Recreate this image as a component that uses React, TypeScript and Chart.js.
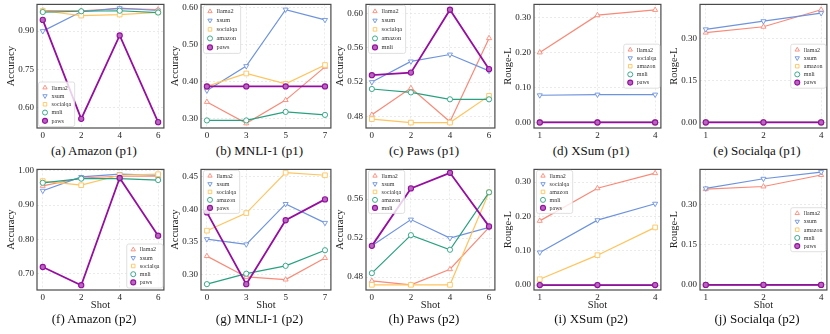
import React, { useEffect, useRef } from "react";
import { Chart, registerables } from "chart.js";

Chart.register(...registerables);

const FONT = "'Liberation Serif', 'Times New Roman', Times, serif";

// ---- x tick labels (shots) ----
const amazonShots = ["0", "2", "4", "6"];
const mnliShots = ["0", "3", "5", "7"];
const pawsShots = ["0", "2", "4", "6"];
const genShots = ["1", "2", "4"];

// ---- source task names (legend entries) ----
const amazonSources = ["llama2", "xsum", "socialqa", "mnli", "paws"];
const mnliSources = ["llama2", "xsum", "socialqa", "amazon", "paws"];
const pawsSources = ["llama2", "xsum", "socialqa", "amazon", "mnli"];
const xsumSources = ["llama2", "socialqa", "amazon", "mnli", "paws"];
const socialqaSources = ["llama2", "xsum", "amazon", "mnli", "paws"];

// ---- y tick values ----
const amazonP1Ticks = [0.6, 0.75, 0.9];
const mnliP1Ticks = [0.3, 0.4, 0.5, 0.6];
const pawsP1Ticks = [0.48, 0.52, 0.56, 0.6];
const xsumTicks = [0, 0.1, 0.2, 0.3];
const socialqaTicks = [0, 0.15, 0.3];
const amazonP2Ticks = [0.7, 0.8, 0.9, 1.0];
const mnliP2Ticks = [0.3, 0.35, 0.4, 0.45];
const pawsP2Ticks = [0.48, 0.52, 0.56];

// ---- series values (one row per source, in source order) ----
const amazonP1 = [
  [0.981, 0.980, 0.988, 0.985],
  [0.900, 0.976, 0.990, 0.981],
  [0.980, 0.961, 0.965, 0.974],
  [0.975, 0.978, 0.980, 0.973],
  [0.944, 0.555, 0.883, 0.542],
];
const mnliP1 = [
  [0.345, 0.287, 0.350, 0.440],
  [0.376, 0.442, 0.595, 0.567],
  [0.387, 0.422, 0.394, 0.445],
  [0.295, 0.295, 0.318, 0.310],
  [0.387, 0.387, 0.387, 0.387],
];
const pawsP1 = [
  [0.482, 0.513, 0.474, 0.571],
  [0.520, 0.544, 0.552, 0.533],
  [0.477, 0.473, 0.473, 0.504],
  [0.512, 0.508, 0.500, 0.500],
  [0.528, 0.531, 0.604, 0.535],
];
const xsumP1 = [
  [0.201, 0.308, 0.323],
  [0.078, 0.080, 0.080],
  [0, 0, 0],
  [0, 0, 0],
  [0, 0, 0],
];
const socialqaP1 = [
  [0.321, 0.342, 0.403],
  [0.333, 0.362, 0.391],
  [0, 0, 0],
  [0, 0, 0],
  [0, 0, 0],
];
const amazonP2 = [
  [0.956, 0.979, 0.984, 0.984],
  [0.942, 0.982, 0.990, 0.987],
  [0.970, 0.958, 0.987, 0.990],
  [0.965, 0.977, 0.977, 0.973],
  [0.720, 0.667, 0.979, 0.811],
];
const mnliP2 = [
  [0.328, 0.296, 0.292, 0.325],
  [0.354, 0.346, 0.408, 0.379],
  [0.367, 0.394, 0.456, 0.452],
  [0.285, 0.301, 0.313, 0.337],
  [0.395, 0.285, 0.383, 0.415],
];
const pawsP2 = [
  [0.476, 0.472, 0.488, 0.531],
  [0.512, 0.539, 0.520, 0.531],
  [0.472, 0.472, 0.472, 0.567],
  [0.484, 0.523, 0.508, 0.567],
  [0.512, 0.571, 0.587, 0.532],
];
const xsumP2 = [
  [0.187, 0.282, 0.326],
  [0.095, 0.189, 0.237],
  [0.017, 0.087, 0.168],
  [0, 0, 0],
  [0, 0, 0],
];
const socialqaP2 = [
  [0.358, 0.368, 0.411],
  [0.361, 0.397, 0.422],
  [0, 0, 0],
  [0, 0, 0],
  [0, 0, 0],
];

// ---- styles ----
const COLORS = ["#F98A78", "#6E93DD", "#FFC45E", "#28A17F", "#960E9F"];
const FILLS = ["#ffffff", "#ffffff", "#ffffff", "#ffffff", "#B766BE"];
const STYLES = ["triangle", "triangle", "rect", "circle", "circle"];
const ROTS = [0, 180, 0, 0, 0];
const RADII = [2.9, 2.9, 3.3, 2.6, 2.6];

type PanelCfg = {
  title: string;
  shots: string[];
  sources: string[];
  values: number[][];
  yTitle: string;
  yMin: number;
  yMax: number;
  yTicks: number[];
  box: number[]; // left, right, top, bottom
  legend: string;
  rowH: number;
  legFont: number;
  row: number;
};

const COLS = [
  [37, 165],
  [201, 332],
  [366, 496],
  [534, 662],
  [700, 828],
];
const ROWS = [
  [2, 128],
  [167, 290],
];
const TITLE_Y = [151, 319];

const PANELS: PanelCfg[] = [
  { title: "(a) Amazon (p1)", shots: amazonShots, sources: amazonSources, values: amazonP1, yTitle: "Accuracy", yMin: 0.519, yMax: 1.005, yTicks: amazonP1Ticks, box: [...COLS[0], ...ROWS[0]], legend: "ll", rowH: 8.3, legFont: 6, row: 0 },
  { title: "(b) MNLI-1 (p1)", shots: mnliShots, sources: mnliSources, values: mnliP1, yTitle: "Accuracy", yMin: 0.2745, yMax: 0.609, yTicks: mnliP1Ticks, box: [...COLS[1], ...ROWS[0]], legend: "ul", rowH: 9, legFont: 6.3, row: 0 },
  { title: "(c) Paws (p1)", shots: pawsShots, sources: pawsSources, values: pawsP1, yTitle: "Accuracy", yMin: 0.4667, yMax: 0.6102, yTicks: pawsP1Ticks, box: [...COLS[2], ...ROWS[0]], legend: "ul", rowH: 9, legFont: 6.3, row: 0 },
  { title: "(d) XSum (p1)", shots: genShots, sources: xsumSources, values: xsumP1, yTitle: "Rouge-L", yMin: -0.016, yMax: 0.339, yTicks: xsumTicks, box: [...COLS[3], ...ROWS[0]], legend: "cr", rowH: 8.2, legFont: 6, row: 0 },
  { title: "(e) Socialqa (p1)", shots: genShots, sources: socialqaSources, values: socialqaP1, yTitle: "Rouge-L", yMin: -0.02, yMax: 0.422, yTicks: socialqaTicks, box: [...COLS[4], ...ROWS[0]], legend: "cr", rowH: 8.2, legFont: 6, row: 0 },
  { title: "(f) Amazon (p2)", shots: amazonShots, sources: amazonSources, values: amazonP2, yTitle: "Accuracy", yMin: 0.653, yMax: 1.004, yTicks: amazonP2Ticks, box: [...COLS[0], ...ROWS[1]], legend: "lr", rowH: 8.2, legFont: 6, row: 1 },
  { title: "(g) MNLI-1 (p2)", shots: mnliShots, sources: mnliSources, values: mnliP2, yTitle: "Accuracy", yMin: 0.276, yMax: 0.461, yTicks: mnliP2Ticks, box: [...COLS[1], ...ROWS[1]], legend: "ul", rowH: 8, legFont: 6, row: 1 },
  { title: "(h) Paws (p2)", shots: pawsShots, sources: pawsSources, values: pawsP2, yTitle: "Accuracy", yMin: 0.4667, yMax: 0.5905, yTicks: pawsP2Ticks, box: [...COLS[2], ...ROWS[1]], legend: "ul", rowH: 8, legFont: 6, row: 1 },
  { title: "(i) XSum (p2)", shots: genShots, sources: xsumSources, values: xsumP2, yTitle: "Rouge-L", yMin: -0.0145, yMax: 0.337, yTicks: xsumTicks, box: [...COLS[3], ...ROWS[1]], legend: "ul", rowH: 8, legFont: 6, row: 1 },
  { title: "(j) Socialqa (p2)", shots: genShots, sources: socialqaSources, values: socialqaP2, yTitle: "Rouge-L", yMin: -0.019, yMax: 0.432, yTicks: socialqaTicks, box: [...COLS[4], ...ROWS[1]], legend: "cr", rowH: 8.2, legFont: 6, row: 1 },
];

function drawMarker(ctx: CanvasRenderingContext2D, k: number, x: number, y: number, r: number) {
  ctx.beginPath();
  const style = STYLES[k];
  if (style === "triangle") {
    let rad = (ROTS[k] * Math.PI) / 180;
    ctx.moveTo(x + Math.sin(rad) * r, y - Math.cos(rad) * r);
    rad += (2 * Math.PI) / 3;
    ctx.lineTo(x + Math.sin(rad) * r, y - Math.cos(rad) * r);
    rad += (2 * Math.PI) / 3;
    ctx.lineTo(x + Math.sin(rad) * r, y - Math.cos(rad) * r);
    ctx.closePath();
  } else if (style === "rect") {
    const s = r * Math.SQRT1_2;
    ctx.rect(x - s, y - s, 2 * s, 2 * s);
  } else {
    ctx.arc(x, y, r, 0, Math.PI * 2);
  }
  ctx.fillStyle = FILLS[k];
  ctx.fill();
  ctx.strokeStyle = COLORS[k];
  ctx.lineWidth = k === 4 ? 1.1 : 0.9;
  ctx.stroke();
}

const YW = 35;
const PT = 6;
const PR = 4;

function Panel({ p }: { p: PanelCfg }) {
  const ref = useRef<HTMLCanvasElement>(null);
  const [l, r, t, b] = p.box;
  const XH = p.row === 0 ? 14 : 22;
  const cw = r - l + YW + PR;
  const ch = b - t + PT + XH;
  const n = p.shots.length;
  const m = n === 4 ? 0.15 : 0.1;

  useEffect(() => {
    if (!ref.current) return;
    const framePlugin = {
      id: "frameAndLegend",
      afterDatasetsDraw(chart: any) {
        const ctx = chart.ctx as CanvasRenderingContext2D;
        const ca = chart.chartArea;
        ctx.save();
        ctx.strokeStyle = "#4a4a4a";
        ctx.lineWidth = 1.2;
        ctx.strokeRect(ca.left, ca.top, ca.right - ca.left, ca.bottom - ca.top);

        // legend drawn inside the plot box
        ctx.font = `${p.legFont}px ${FONT}`;
        const tw = Math.max(...p.sources.map((s) => ctx.measureText(s).width));
        const w = 13 + tw + 3.5;
        const h = 5 * p.rowH + 3;
        let x0 = ca.left + 2.5;
        let y0 = ca.top + 1;
        if (p.legend === "ll") {
          x0 = ca.left + 1.5;
          y0 = ca.bottom - 1.5 - h;
        } else if (p.legend === "cr") {
          x0 = ca.right - 1 - w;
          y0 = (ca.top + ca.bottom) / 2 - h / 2;
        } else if (p.legend === "lr") {
          x0 = ca.right - 1 - w;
          y0 = ca.bottom - 2 - h;
        }
        ctx.beginPath();
        const rr = 2;
        ctx.moveTo(x0 + rr, y0);
        ctx.arcTo(x0 + w, y0, x0 + w, y0 + h, rr);
        ctx.arcTo(x0 + w, y0 + h, x0, y0 + h, rr);
        ctx.arcTo(x0, y0 + h, x0, y0, rr);
        ctx.arcTo(x0, y0, x0 + w, y0, rr);
        ctx.closePath();
        ctx.fillStyle = "rgba(255,255,255,0.8)";
        ctx.fill();
        ctx.strokeStyle = "#d8d8d8";
        ctx.lineWidth = 0.8;
        ctx.stroke();
        p.sources.forEach((s, k) => {
          const cy = y0 + 1.5 + p.rowH * (k + 0.5);
          drawMarker(ctx, k, x0 + 6.5, cy, 2.5);
          ctx.fillStyle = "#333";
          ctx.textAlign = "left";
          ctx.textBaseline = "middle";
          ctx.font = `${p.legFont}px ${FONT}`;
          ctx.fillText(s, x0 + 13, cy + 0.3);
        });
        ctx.restore();
      },
    };

    const chart = new Chart(ref.current, {
      type: "line",
      data: {
        datasets: p.sources.map((s, k) => ({
          label: s,
          data: p.values[k].map((v, i) => ({ x: i, y: v })),
          borderColor: COLORS[k],
          backgroundColor: FILLS[k],
          borderWidth: k === 4 ? 1.8 : 1.2,
          pointStyle: STYLES[k] as any,
          pointRotation: ROTS[k],
          pointRadius: RADII[k],
          pointBorderWidth: k === 4 ? 1.1 : 0.9,
          pointBackgroundColor: FILLS[k],
          pointBorderColor: COLORS[k],
          order: 4 - k,
          tension: 0,
          fill: false,
        })),
      },
      options: {
        animation: false,
        responsive: false,
        devicePixelRatio: 1,
        events: [],
        layout: { padding: { top: PT, right: PR, left: 0, bottom: 0 } },
        plugins: {
          legend: { display: false },
          tooltip: { enabled: false },
          title: { display: false },
        },
        scales: {
          x: {
            type: "linear",
            min: -m,
            max: n - 1 + m,
            bounds: "data",
            afterBuildTicks: (s: any) => {
              s.ticks = p.shots.map((_, i) => ({ value: i }));
            },
            afterFit: (s: any) => {
              s.height = XH;
            },
            ticks: {
              callback: (v: any) => p.shots[Math.round(Number(v))] ?? "",
              font: { family: FONT, size: 9 },
              color: "#222",
              padding: 2,
              maxRotation: 0,
              autoSkip: false,
            },
            grid: { color: "#e2e2e2", lineWidth: 0.7, drawTicks: false },
            border: { display: false, dash: [2, 2] },
            title: {
              display: p.row === 1,
              text: "Shot",
              font: { family: FONT, size: 10.5 },
              color: "#222",
              padding: 0,
            },
          },
          y: {
            type: "linear",
            min: p.yMin,
            max: p.yMax,
            bounds: "data",
            afterBuildTicks: (s: any) => {
              s.ticks = p.yTicks.map((v) => ({ value: v }));
            },
            afterFit: (s: any) => {
              s.width = YW;
            },
            ticks: {
              callback: (v: any) => Number(v).toFixed(2),
              font: { family: FONT, size: 9 },
              color: "#222",
              padding: 3,
            },
            grid: { color: "#e2e2e2", lineWidth: 0.7, drawTicks: false },
            border: { display: false, dash: [2, 2] },
            title: {
              display: true,
              text: p.yTitle,
              font: { family: FONT, size: 10.5 },
              color: "#222",
              padding: { top: 2.7, bottom: 0 },
            },
          },
        },
      } as any,
      plugins: [framePlugin],
    });
    return () => chart.destroy();
  }, []);

  return (
    <canvas
      ref={ref}
      width={cw}
      height={ch}
      style={{ position: "absolute", left: l - YW, top: t - PT, width: cw, height: ch }}
    />
  );
}

export default function App() {
  return (
    <div
      style={{
        position: "absolute",
        left: 0,
        top: 0,
        width: 830,
        height: 334,
        background: "#fff",
        overflow: "hidden",
      }}
    >
      {PANELS.map((p, i) => (
        <Panel key={i} p={p} />
      ))}
      {PANELS.map((p, i) => {
        const cx = (p.box[0] + p.box[1]) / 2 - 7;
        const cy = TITLE_Y[p.row];
        return (
          <div
            key={"t" + i}
            style={{
              position: "absolute",
              left: cx - 70,
              width: 140,
              top: cy - 8,
              height: 16,
              lineHeight: "16px",
              textAlign: "center",
              fontFamily: FONT,
              fontSize: 13,
              color: "#111",
              whiteSpace: "nowrap",
            }}
          >
            {p.title}
          </div>
        );
      })}
    </div>
  );
}
